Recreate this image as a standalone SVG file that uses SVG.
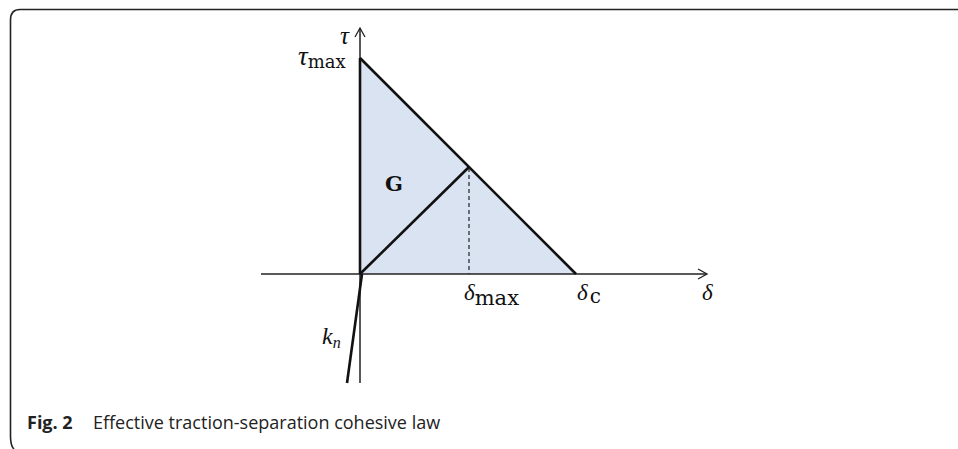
<svg xmlns="http://www.w3.org/2000/svg" width="958" height="449" viewBox="0 0 958 449">
<style>
.ax{stroke:#222;stroke-width:1.5;fill:none}
.th{stroke:#111;stroke-width:2.6;fill:none}
.m{font-family:"DejaVu Serif","Liberation Serif",serif;fill:#111}
.mi{font-family:"Liberation Serif","DejaVu Serif",serif;font-style:italic;fill:#111}
.cap{font-family:"Open Sans","Noto Sans",sans-serif;font-size:18px;fill:#222}
</style>
<defs>
<marker id="ar" markerWidth="12" markerHeight="12" refX="10" refY="6" orient="auto" markerUnits="userSpaceOnUse">
<path d="M1,1 L10,6 L1,11" fill="none" stroke="#222" stroke-width="1.3"/>
</marker>
</defs>
<path d="M20,9.5 L958,9.5 M20,9.5 Q10.5,9.5 10.5,20 L10.5,436 Q10.5,446 14,449" fill="none" stroke="#222" stroke-width="1.6"/>
<g id="area">
<polygon points="360,58 360,274 576,274" fill="#dae3f2"/>
</g>
<g id="connectors">
<line class="ax" x1="261" y1="274" x2="707" y2="274" marker-end="url(#ar)"/>
<line class="ax" x1="360" y1="383" x2="360" y2="28" marker-end="url(#ar)"/>
<line class="th" x1="360" y1="58" x2="360" y2="274"/>
<line class="th" x1="360" y1="58" x2="576" y2="274"/>
<line class="th" x1="360" y1="274" x2="469" y2="167"/>
<line x1="469" y1="168" x2="469" y2="274" stroke="#222" stroke-width="1.2" stroke-dasharray="4,3"/>
<line class="th" x1="362" y1="274" x2="347" y2="383"/>
</g>
<g id="labels">
<text class="mi" x="340" y="44" font-size="25">τ</text>
<text x="298" y="65"><tspan class="mi" font-size="27">τ</tspan><tspan class="m" font-size="18" dy="3">max</tspan></text>
<text class="m" x="385" y="191" font-size="21" font-weight="bold">G</text>
<text x="464" y="300"><tspan class="mi" font-size="23">δ</tspan><tspan class="m" font-size="21" dy="5">max</tspan></text>
<text x="577" y="300"><tspan class="mi" font-size="23">δ</tspan><tspan class="m" font-size="20" dx="2" dy="3">c</tspan></text>
<text class="mi" x="702" y="300" font-size="23">δ</text>
<text x="322" y="344"><tspan class="mi" font-size="24">k</tspan><tspan class="mi" font-size="16" dy="4">n</tspan></text>
</g>
<text class="cap" x="27" y="429"><tspan font-weight="bold">Fig. 2</tspan><tspan x="93">Effective traction-separation cohesive law</tspan></text>
</svg>
